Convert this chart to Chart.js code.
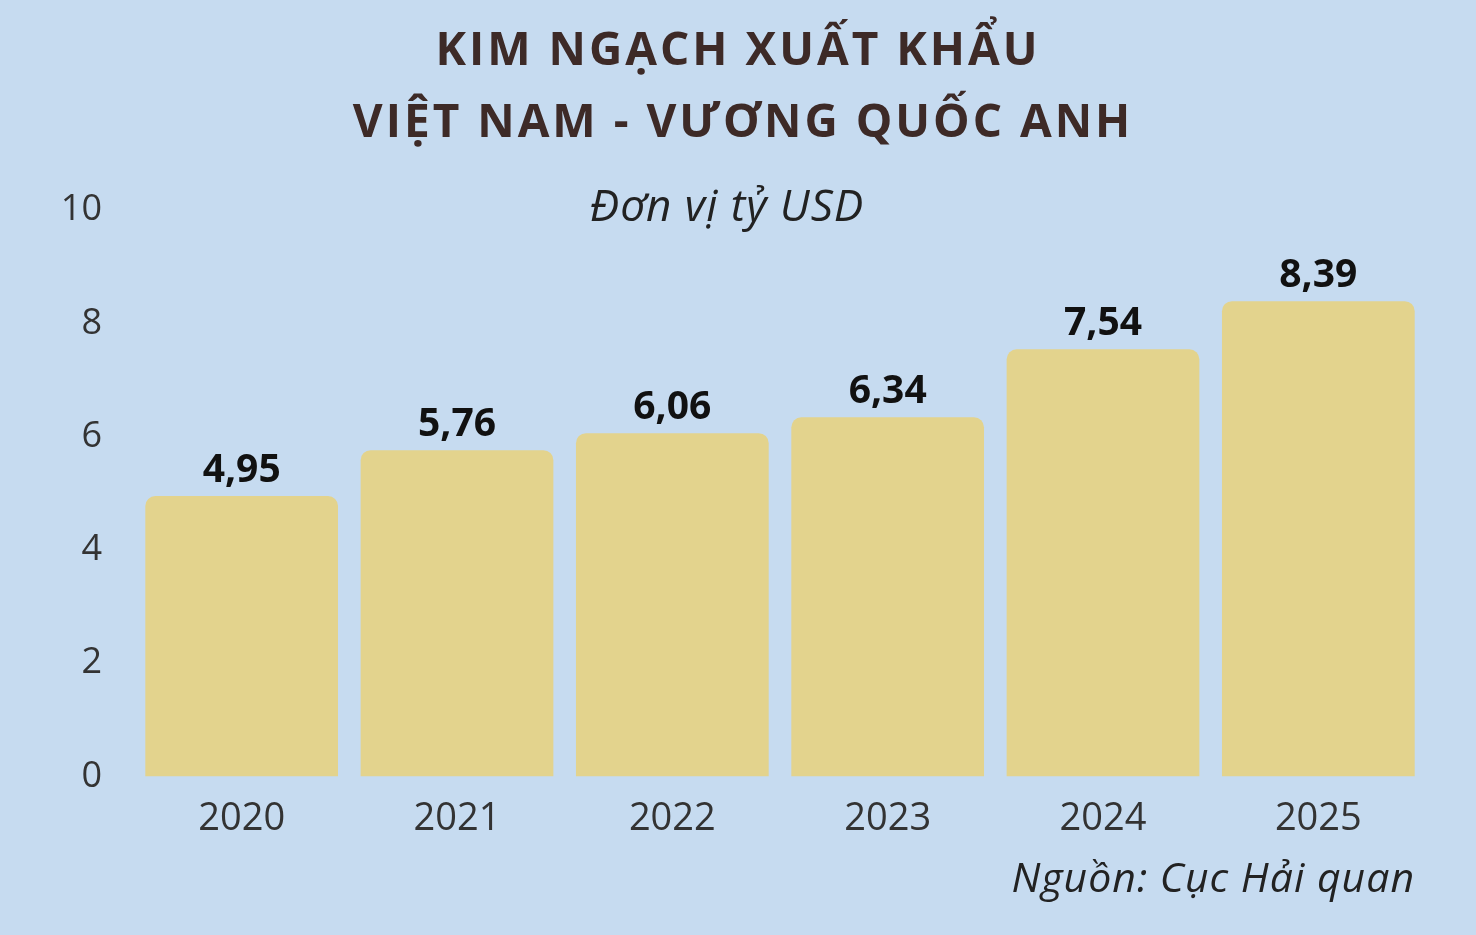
<!DOCTYPE html>
<html>
<head>
<meta charset="utf-8">
<script src="https://cdn.jsdelivr.net/npm/chart.js@4/dist/chart.umd.min.js"></script>
<style>
  html, body { margin: 0; padding: 0; background: #c6dbf0; }
  #wrap { width: 1476px; height: 935px; }
</style>
</head>
<body>
<div id="wrap"><canvas id="c" width="1476" height="935"></canvas></div>
<script>
const years = ["2020", "2021", "2022", "2023", "2024", "2025"];
const exportValues = [4.95, 5.76, 6.06, 6.34, 7.54, 8.39];
const yTicks = [0, 2, 4, 6, 8, 10];

// titles, subtitle, source and value labels
const textPlugin = {
  id: "texts",
  afterDatasetsDraw(chart) {
    const ctx = chart.ctx;
    ctx.save();
    ctx.textAlign = "center";
    ctx.textBaseline = "middle";
    ctx.fillStyle = "#3d2a27";
    ctx.font = "bold 46px 'Open Sans'";
    ctx.letterSpacing = "3px";
    ctx.fillText("KIM NGẠCH XUẤT KHẨU", 738, 52);
    ctx.fillText("VIỆT NAM - VƯƠNG QUỐC ANH", 743, 124);
    ctx.letterSpacing = "1px";
    ctx.fillStyle = "#222";
    ctx.font = "italic 44px 'Open Sans'";
    ctx.fillText("Đơn vị tỷ USD", 727, 208);
    ctx.textAlign = "right";
    ctx.font = "italic 41px 'Open Sans'";
    ctx.fillText("Nguồn: Cục Hải quan", 1415, 880);

    ctx.letterSpacing = "0px";
    ctx.textAlign = "center";
    ctx.fillStyle = "#111";
    ctx.font = "bold 39px 'Open Sans'";
    const meta = chart.getDatasetMeta(0);
    meta.data.forEach((bar, i) => {
      ctx.fillText(exportValues[i].toFixed(2).replace(".", ","), bar.x, bar.y - 25);
    });
    ctx.restore();
  }
};

new Chart(document.getElementById("c"), {
  type: "bar",
  data: {
    labels: years,
    datasets: [{
      data: exportValues,
      backgroundColor: "#e3d38d",
      borderRadius: { topLeft: 10, topRight: 10 },
      borderSkipped: "bottom",
      categoryPercentage: 0.895,
      barPercentage: 1
    }]
  },
  options: {
    responsive: false,
    animation: false,
    layout: { padding: { top: 210, left: 30, right: 50, bottom: 81 } },
    plugins: { legend: { display: false }, tooltip: { enabled: false } },
    scales: {
      x: {
        grid: { display: false },
        border: { display: false },
        ticks: { color: "#333", font: { size: 38, family: "'Open Sans'" }, padding: 12 }
      },
      y: {
        min: 0,
        max: 10,
        afterBuildTicks: (s) => { s.ticks = yTicks.map(v => ({ value: v })); },
        afterFit: (s) => { s.width = 104; },
        grid: { display: false },
        border: { display: false },
        ticks: { color: "#333", font: { size: 36, family: "'Open Sans'" }, padding: 24 }
      }
    }
  },
  plugins: [textPlugin]
});
</script>
</body>
</html>
